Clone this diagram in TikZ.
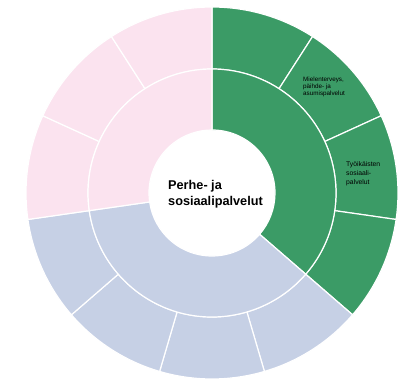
\documentclass[tikz,border=0pt]{standalone}
\usepackage{fontspec}
\setmainfont{Liberation Sans}
\usepackage{tikz}
\usetikzlibrary{calc}

\definecolor{grn}{RGB}{59,155,102}
\definecolor{pnk}{RGB}{251,227,239}
\definecolor{blu}{RGB}{198,208,229}

\begin{document}
\begin{tikzpicture}[sector/.style={draw=white, line width=1.2pt}]
    \coordinate (O) at (0, 0);
    \def\Rin{63pt}
    \def\Rmid{124pt}
    \def\Rout{186pt}
    \def\seg{32.727}
    \useasboundingbox (-212pt, -189pt) rectangle (186pt, 193pt);

    % Outer ring
    \foreach \i/\col in {0/grn,1/grn,2/grn,3/grn,4/blu,5/blu,6/blu,7/blu,8/pnk,9/pnk,10/pnk} {
        \pgfmathsetmacro\a{90-\i*\seg}
        \pgfmathsetmacro\b{\a-\seg}
        \filldraw[sector, fill=\col] (\a:\Rmid) arc[start angle=\a, end angle=\b, radius=\Rmid]
            -- (\b:\Rout) arc[start angle=\b, end angle=\a, radius=\Rout] -- cycle;
    }

    % Inner ring
    \filldraw[sector, fill=grn] (90:\Rin) arc[start angle=90, end angle=-40.91, radius=\Rin]
        -- (-40.91:\Rmid) arc[start angle=-40.91, end angle=90, radius=\Rmid] -- cycle;
    \filldraw[sector, fill=blu] (-40.91:\Rin) arc[start angle=-40.91, end angle=-171.82, radius=\Rin]
        -- (-171.82:\Rmid) arc[start angle=-171.82, end angle=-40.91, radius=\Rmid] -- cycle;
    \filldraw[sector, fill=pnk] (188.18:\Rin) arc[start angle=188.18, end angle=90, radius=\Rin]
        -- (90:\Rmid) arc[start angle=90, end angle=188.18, radius=\Rmid] -- cycle;

    % Labels
    \node[align=left, font=\bfseries\fontsize{12.7}{16.5}\selectfont] (title) at (3.5pt, -1pt)
        {Perhe- ja\\sosiaalipalvelut};
    \node[anchor=north west, inner sep=0pt, align=left, font=\fontsize{6.3}{7}\selectfont]
        (mielenterveys) at (91pt, 116pt) {Mielenterveys,\\päihde- ja\\asumispalvelut};
    \node[anchor=north west, inner sep=0pt, align=left, font=\fontsize{6.8}{9}\selectfont]
        (tyoikaiset) at (134pt, 31.5pt) {Työikäisten\\sosiaali-\\palvelut};
\end{tikzpicture}
\end{document}
